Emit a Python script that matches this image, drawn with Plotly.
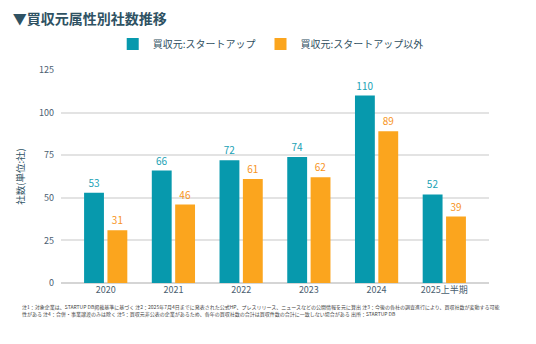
import plotly.graph_objects as go

categories = ["2020", "2021", "2022", "2023", "2024", "2025上半期"]
startup = [53, 66, 72, 74, 110, 52]
non_startup = [31, 46, 61, 62, 89, 39]
y_ticks = [0, 25, 50, 75, 100, 125]

TEAL = "#0799ad"
ORANGE = "#fba51e"
FONT = "Noto Sans CJK JP"

fig = go.Figure()
fig.add_trace(go.Bar(
    x=categories, y=startup, name="買収元:スタートアップ",
    marker=dict(color=TEAL, line=dict(width=0)),
    text=[str(v) for v in startup], textposition="outside",
    textfont=dict(color="#21a2b5", size=10, family=FONT), cliponaxis=False,
))
fig.add_trace(go.Bar(
    x=categories, y=non_startup, name="買収元:スタートアップ以外",
    marker=dict(color=ORANGE, line=dict(width=0)),
    text=[str(v) for v in non_startup], textposition="outside",
    textfont=dict(color="#f7941d", size=10, family=FONT), cliponaxis=False,
))

notes = ("注1：対象企業は、STARTUP DB掲載基準に基づく 注2：2025年7月4日までに発表された公式HP、プレスリリース、ニュースなどの公開情報を元に算出 注3：今後の各社の調査進行により、買収社数が変動する可能"
         "<br>性がある 注4：合併・事業譲渡のみは除く 注5：買収元非公表の企業があるため、各年の買収社数の合計は買収件数の合計に一致しない場合がある 出所：STARTUP DB")

fig.update_layout(
    width=536, height=344,
    margin=dict(l=61, r=47, t=70, b=61),
    paper_bgcolor="white", plot_bgcolor="white",
    font=dict(family=FONT, color="#4a6070"),
    barmode="group", bargap=0.31, bargroupgap=0.15,
    title=dict(text="<b>▼買収元属性別社数推移</b>", x=0.024, xanchor="left", xref="container",
               y=0.945, yanchor="middle", yref="container",
               font=dict(size=14, color="#2f5263", family=FONT)),
    legend=dict(orientation="h", x=0.49, xanchor="center", y=1.122, yanchor="middle",
                xref="paper", yref="paper", bgcolor="rgba(0,0,0,0)",
                font=dict(size=10, color="#2f4f5f", family=FONT), traceorder="normal"),
    showlegend=True,
    annotations=[dict(text=notes, x=-0.095, y=-0.083, xref="paper", yref="paper", xanchor="left", yanchor="top",
                      showarrow=False, align="left", font=dict(size=5, color="#444", family=FONT))],
)
fig.update_xaxes(range=[-0.66, 5.66], showgrid=False, ticks="", tickfont=dict(size=9, color="#4a6070"),
                 showline=False)
fig.update_yaxes(range=[0, 125], tickvals=y_ticks, showgrid=True, gridcolor="#e3e3e3", gridwidth=1.5,
                 zeroline=True, zerolinecolor="#d5d5d5", zerolinewidth=1.5, ticks="", ticklabelstandoff=6,
                 tickfont=dict(size=9, color="#4a6070"),
                 title=dict(text="社数(単位:社)", font=dict(size=9.5, color="#2f5263"), standoff=12))

fig.write_html("out.html")
